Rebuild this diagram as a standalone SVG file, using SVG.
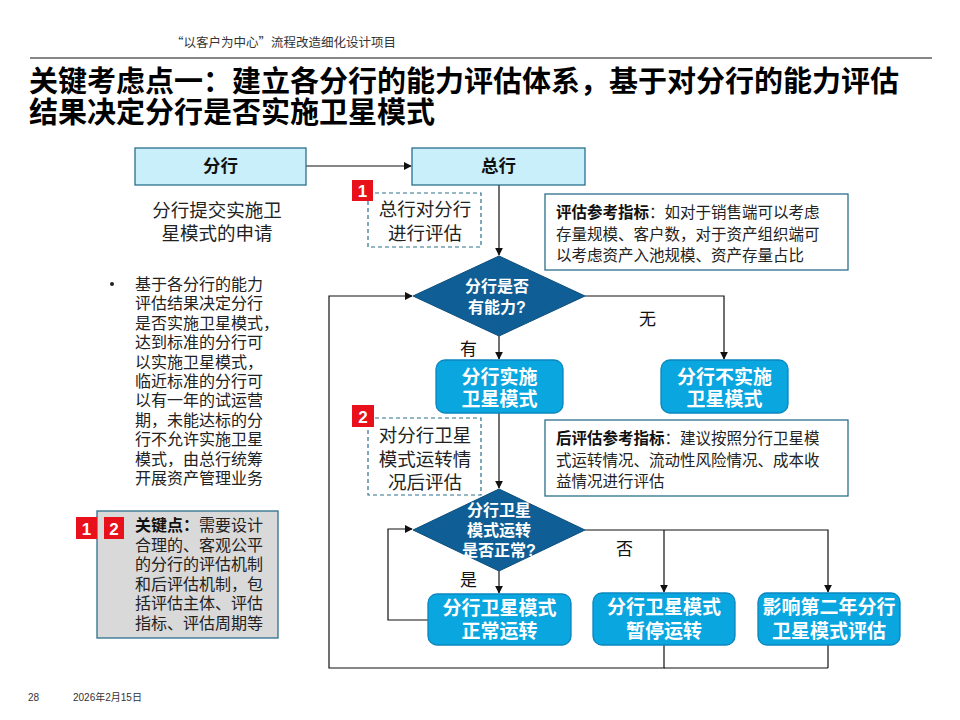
<svg xmlns="http://www.w3.org/2000/svg" width="960" height="720" viewBox="0 0 960 720">
<defs>
<marker id="arr" viewBox="0 0 10 10" refX="9" refY="5" markerWidth="8" markerHeight="8" markerUnits="userSpaceOnUse" orient="auto"><path d="M0,0 L10,5 L0,10 z" fill="#111"/></marker>
<style>
text{font-family:"Liberation Sans","Noto Sans CJK SC",sans-serif;}
.lbox{fill:#C8EFFA;stroke:#2C6F8C;stroke-width:1.3}
.dia{fill:#0F5F96;stroke:#0C4E7C;stroke-width:1}
.rb{fill:#0AA6E0;stroke:#0A86BE;stroke-width:1.3}
.dash{fill:#fff;stroke:#2C6F8C;stroke-width:1.2;stroke-dasharray:4 3}
.info{fill:#fff;stroke:#2C6F8C;stroke-width:1.3}
.red{fill:#E8101A}
.wt{fill:#fff;font-weight:bold;text-anchor:middle}
.bt{fill:#111;font-weight:bold;text-anchor:middle;font-size:17.5px}
.nt{fill:#222;font-size:18.5px;text-anchor:middle}
.it{fill:#222;font-size:15.5px}
.num{fill:#fff;font-weight:bold;font-size:17px;text-anchor:middle}
.ln{fill:none;stroke:#111;stroke-width:1.2}
.lbl{fill:#111;font-size:17px}
.side{fill:#222;font-size:16px}
</style>
</defs>
<rect width="960" height="720" fill="#fff"/>
<text x="171" y="47" font-size="12.5" fill="#333" style="font-family:'Noto Sans CJK SC',sans-serif">“以客户为中心”流程改造细化设计项目</text>
<line x1="30" y1="58" x2="932" y2="58" stroke="#111" stroke-width="1.2"/>
<text x="29" y="92" font-size="29" font-weight="bold" fill="#000">关键考虑点一：建立各分行的能力评估体系，基于对分行的能力评估</text>
<text x="29" y="123" font-size="29" font-weight="bold" fill="#000">结果决定分行是否实施卫星模式</text>

<g id="connectors">
<line class="ln" x1="306" y1="166" x2="411" y2="166" marker-end="url(#arr)"/>
<line class="ln" x1="499" y1="185" x2="499" y2="255" marker-end="url(#arr)"/>
<polyline class="ln" points="585,296 724,296 724,359" marker-end="url(#arr)"/>
<line class="ln" x1="499" y1="336" x2="499" y2="359" marker-end="url(#arr)"/>
<line class="ln" x1="499" y1="413" x2="499" y2="488" marker-end="url(#arr)"/>
<line class="ln" x1="499" y1="571" x2="499" y2="593" marker-end="url(#arr)"/>
<polyline class="ln" points="585,530 828,530 828,592" marker-end="url(#arr)"/>
<line class="ln" x1="664" y1="530" x2="664" y2="592" marker-end="url(#arr)"/>
<polyline class="ln" points="428,620 388,620 388,529 412,529" marker-end="url(#arr)"/>
<polyline class="ln" points="664,645 664,668 329,668 329,296 412,296" marker-end="url(#arr)"/>
<line class="ln" x1="828" y1="645" x2="828" y2="668"/>
<line class="ln" x1="664" y1="668" x2="828" y2="668"/>
<text class="lbl" x="639" y="325">无</text>
<text class="lbl" x="460" y="355">有</text>
<text class="lbl" x="616" y="555">否</text>
<text class="lbl" x="460" y="586">是</text>
</g>

<g id="branch">
<rect class="lbox" x="135" y="148" width="171" height="37"/>
<text class="bt" x="220.5" y="172">分行</text>
</g>
<g id="branch-note">
<text class="nt" x="217" y="217">分行提交实施卫</text>
<text class="nt" x="217" y="240">星模式的申请</text>
</g>
<g id="hq">
<rect class="lbox" x="412" y="148" width="173" height="37"/>
<text class="bt" x="498.5" y="172">总行</text>
</g>
<g id="eval-note">
<rect class="dash" x="368" y="193" width="113" height="54"/>
<rect class="red" x="352" y="180" width="21" height="21"/>
<text class="num" x="362.5" y="197">1</text>
<text class="nt" x="425" y="216">总行对分行</text>
<text class="nt" x="425" y="240">进行评估</text>
</g>
<g id="eval-info">
<rect class="info" x="545" y="194" width="303" height="76"/>
<text class="it" x="556" y="218"><tspan font-weight="bold" fill="#111">评估参考指标</tspan>：如对于销售端可以考虑</text>
<text class="it" x="556" y="240">存量规模、客户数，对于资产组织端可</text>
<text class="it" x="556" y="261">以考虑资产入池规模、资产存量占比</text>
</g>
<g id="decision1">
<polygon class="dia" points="499,256 585,296 499,336 413,296"/>
<text class="wt" x="497" y="292" font-size="16">分行是否</text>
<text class="wt" x="497" y="313" font-size="16">有能力?</text>
</g>
<g id="implement">
<rect class="rb" x="436" y="360" width="127" height="53" rx="9"/>
<text class="wt" x="499.5" y="384" font-size="19">分行实施</text>
<text class="wt" x="499.5" y="406" font-size="19">卫星模式</text>
</g>
<g id="not-implement">
<rect class="rb" x="661" y="360" width="127" height="53" rx="9"/>
<text class="wt" x="724.5" y="384" font-size="19">分行不实施</text>
<text class="wt" x="724.5" y="406" font-size="19">卫星模式</text>
</g>
<g id="post-eval-note">
<rect class="dash" x="368" y="418" width="113" height="77"/>
<rect class="red" x="352" y="405" width="22" height="22"/>
<text class="num" x="363" y="423">2</text>
<text class="nt" x="425" y="442">对分行卫星</text>
<text class="nt" x="425" y="466">模式运转情</text>
<text class="nt" x="425" y="489">况后评估</text>
</g>
<g id="post-eval-info">
<rect class="info" x="545" y="420" width="303" height="76"/>
<text class="it" x="556" y="444"><tspan font-weight="bold" fill="#111">后评估参考指标</tspan>：建议按照分行卫星模</text>
<text class="it" x="556" y="466">式运转情况、流动性风险情况、成本收</text>
<text class="it" x="556" y="487">益情况进行评估</text>
</g>
<g id="decision2">
<polygon class="dia" points="499,489 585,530 499,571 413,530"/>
<text class="wt" x="499" y="516" font-size="16">分行卫星</text>
<text class="wt" x="499" y="536" font-size="16">模式运转</text>
<text class="wt" x="499" y="556" font-size="16">是否正常?</text>
</g>
<g id="normal">
<rect class="rb" x="428" y="594" width="143" height="51" rx="9"/>
<text class="wt" x="499.5" y="615" font-size="19">分行卫星模式</text>
<text class="wt" x="499.5" y="638" font-size="19">正常运转</text>
</g>
<g id="pause">
<rect class="rb" x="593" y="593" width="142" height="52" rx="9"/>
<text class="wt" x="664" y="614" font-size="19">分行卫星模式</text>
<text class="wt" x="664" y="638" font-size="19">暂停运转</text>
</g>
<g id="impact">
<rect class="rb" x="758" y="593" width="142" height="52" rx="9"/>
<text class="wt" x="829" y="614" font-size="19">影响第二年分行</text>
<text class="wt" x="829" y="638" font-size="19">卫星模式评估</text>
</g>

<g id="bullet">
<circle cx="112" cy="284" r="2" fill="#222"/>
<text class="side" x="135" y="290">基于各分行的能力</text>
<text class="side" x="135" y="309.4">评估结果决定分行</text>
<text class="side" x="135" y="328.8">是否实施卫星模式，</text>
<text class="side" x="135" y="348.2">达到标准的分行可</text>
<text class="side" x="135" y="367.6">以实施卫星模式，</text>
<text class="side" x="135" y="387">临近标准的分行可</text>
<text class="side" x="135" y="406.4">以有一年的试运营</text>
<text class="side" x="135" y="425.8">期，未能达标的分</text>
<text class="side" x="135" y="445.2">行不允许实施卫星</text>
<text class="side" x="135" y="464.6">模式，由总行统筹</text>
<text class="side" x="135" y="484">开展资产管理业务</text>
</g>
<g id="keypoint">
<rect x="97" y="511" width="181" height="127" fill="#D9D9D9" stroke="#2C6F8C" stroke-width="1.3"/>
<rect class="red" x="76" y="517" width="21" height="22"/>
<text class="num" x="86.5" y="535">1</text>
<rect class="red" x="104" y="517" width="20" height="22"/>
<text class="num" x="114" y="535">2</text>
<text class="side" x="135" y="531"><tspan font-weight="bold" fill="#111">关键点：</tspan>需要设计</text>
<text class="side" x="135" y="550.6">合理的、客观公平</text>
<text class="side" x="135" y="570.2">的分行的评估机制</text>
<text class="side" x="135" y="589.8">和后评估机制，包</text>
<text class="side" x="135" y="609.4">括评估主体、评估</text>
<text class="side" x="135" y="629">指标、评估周期等</text>
</g>
<text x="28" y="701" font-size="10" fill="#333">28</text>
<text x="73" y="701" font-size="10" fill="#333">2026年2月15日</text>
</svg>
